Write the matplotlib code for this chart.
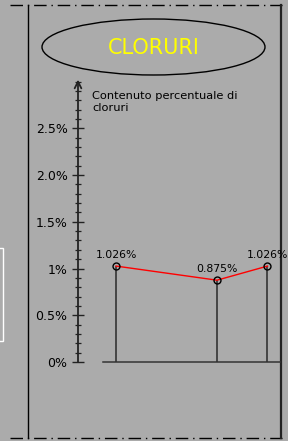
import matplotlib.pyplot as plt
from matplotlib.patches import Ellipse, Rectangle
from matplotlib.ticker import MultipleLocator

# data
x_pos = [0, 2, 3]
values = [1.026, 0.875, 1.026]
point_labels = ["1.026%", "0.875%", "1.026%"]
yticks = [0, 0.5, 1, 1.5, 2.0, 2.5]
ytick_labels = ["0%", "0.5%", "1%", "1.5%", "2.0%", "2.5%"]
title = "CLORURI"
ylabel = "Contenuto percentuale di\ncloruri"

W, H = 288, 441
bg = "#ababab"
fig = plt.figure(figsize=(W / 100, H / 100), dpi=100, facecolor=bg)

# frame layer in pixel coordinates
deco = fig.add_axes([0, 0, 1, 1])
deco.set_xlim(0, W)
deco.set_ylim(H, 0)
deco.axis("off")
deco.set_facecolor(bg)

dash = (0, (9, 3.5, 1, 3.5))
deco.plot([10, 282], [5, 5], color="black", lw=1, linestyle=dash)
deco.plot([10, 282], [438, 438], color="black", lw=1, linestyle=dash)
deco.plot([28, 28], [5, 438], color="black", lw=1)
deco.plot([280.5, 280.5], [5, 438], color="#222222", lw=1.6)
deco.add_patch(Rectangle((-5, 248), 7.5, 93, fill=False, edgecolor="white", lw=1))

deco.add_patch(Ellipse((153.5, 47), 223, 56, fill=False, edgecolor="black", lw=1))
deco.text(153.5, 47.5, title, color="yellow", fontsize=15, ha="center", va="center")

# chart layer
px_per_unit = 50.5
x0_px = 116
left_px, right_px = 78, 280
ymax = 3.0
y0_px = 362
ytop_px = y0_px - ymax * 93.5
ax = fig.add_axes([left_px / W, (H - y0_px) / H,
                   (right_px - left_px) / W, (y0_px - ytop_px) / H])
ax.set_facecolor("none")
ax.set_xlim((left_px - x0_px) / px_per_unit, (right_px - x0_px) / px_per_unit)
ax.set_ylim(0, ymax)
for s in ["top", "right", "bottom", "left"]:
    ax.spines[s].set_visible(False)
xl = ax.get_xlim()[0]
ax.annotate("", xy=(xl, ymax + 0.02), xytext=(xl, 0),
            arrowprops=dict(arrowstyle="->", color="#222222", lw=1.3,
                            shrinkA=0, shrinkB=0, mutation_scale=12),
            annotation_clip=False)

ax.set_yticks(yticks)
ax.set_yticklabels(ytick_labels, fontsize=9)
ax.yaxis.set_minor_locator(MultipleLocator(0.1))
ax.tick_params(axis="y", which="major", direction="inout", length=9, width=1.0,
               pad=3, color="#222222")
ax.tick_params(axis="y", which="minor", direction="inout", length=5, width=0.9,
               color="#222222")
ax.set_xticks([])

ax.text(xl + 14 / px_per_unit, 2.78, ylabel, fontsize=8.2, va="center", ha="left",
        linespacing=1.15)

ax.plot([(103 - x0_px) / px_per_unit, ax.get_xlim()[1]], [0, 0], color="#333333", lw=1.1,
        clip_on=False)
ax.vlines(x_pos, 0, values, color="#333333", lw=1.2)
ax.plot(x_pos, values, color="red", lw=1)
ax.plot(x_pos, values, "o", mfc="none", mec="black", ms=5, mew=1)
for x, v, t in zip(x_pos, values, point_labels):
    ax.annotate(t, (x, v), xytext=(0, 4.5), textcoords="offset points",
                ha="center", va="bottom", fontsize=7.8, annotation_clip=False)

fig.savefig("out.png", dpi=100, facecolor=bg)
